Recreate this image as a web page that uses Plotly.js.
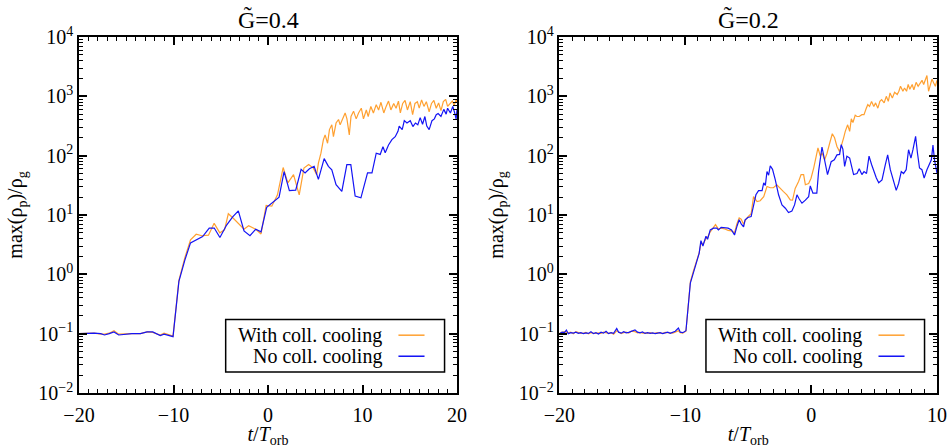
<!DOCTYPE html>
<html>
<head>
<meta charset="utf-8">
<script src="https://cdn.plot.ly/plotly-3.0.1.min.js"></script>
<style>
html,body{margin:0;padding:0;background:#fff;}
#chart{width:949px;height:448px;}
</style>
</head>
<body>
<div id="chart"></div>
<script>
// ---------- Data ----------
const panelTitles = ['G\u0303=0.4', 'G\u0303=0.2'];
const seriesNames = ['With coll. cooling', 'No coll. cooling'];

// Left panel (G=0.4)
const tLeftNo = [-20,-19.3,-18.4,-17.7,-17.3,-16.8,-16.3,-15.8,-15.1,-14.4,-13.5,-12.8,-12.2,-11.4,-11.0,-10.05,
  -9.43,-8.8,-8.2,-7.56,-6.92,-6.22,-5.69,-5.09,-4.38,-3.74,-3.14,-2.54,-1.91,-1.3,-0.74,-0.14,0.5,1.17,1.7,2.26,
  2.93,3.5,3.92,4.38,4.88,5.33,5.94,6.39,6.75,7.2,7.81,8.34,8.76,9.22,9.83,10.53,11.0,11.45,11.87,12.16,
  12.4,12.75,13.11,13.46,13.75,13.88,14.2,14.42,14.7,15.05,15.33,15.6,15.85,16.1,16.35,16.6,16.8,17.05,17.35,17.6,
  17.8,18.0,18.3,18.6,18.85,19.0,19.3,19.55,19.75,19.9,20.0];
const vLeftNo = [0.100,0.102,0.102,0.100,0.095,0.100,0.107,0.095,0.098,0.100,0.100,0.107,0.107,0.093,0.098,0.089,
  0.76,1.74,3.39,3.80,4.32,6.03,6.03,4.17,6.76,9.33,11.7,5.37,4.47,5.75,5.19,13.5,16.6,20.0,53.7,25.7,
  26.3,58.9,51.3,60.3,66.1,39.8,89.1,66.1,57.5,32.4,25.1,70.8,70.8,20.9,19.5,51.3,51.3,110,105,141,
  112,151,186,209,257,316,275,389,355,389,309,355,331,437,339,457,316,275,389,417,
  490,513,457,603,501,631,525,676,525,417,603];

const tLeftWith = [-20,-19.3,-18.4,-17.7,-17.3,-16.8,-16.3,-15.8,-15.1,-14.4,-13.5,-12.8,-12.2,-11.4,-11.0,-10.05,
  -9.43,-8.8,-8.2,-7.6,-7.0,-6.3,-5.7,-5.1,-4.6,-4.2,-3.7,-3.14,-2.54,-2.05,-1.3,-0.74,-0.2,0.4,1.0,1.6,
  2.1,2.7,3.3,3.8,4.3,4.8,5.15,5.33,5.6,5.86,6.04,6.3,6.5,6.75,6.92,7.2,7.46,7.63,7.88,8.16,
  8.35,8.6,8.78,9.05,9.33,9.58,9.87,10.1,10.4,10.6,10.88,11.15,11.45,11.7,11.95,12.25,12.5,12.75,13.0,13.3,
  13.55,13.8,14.0,14.25,14.5,14.75,15.05,15.3,15.55,15.8,16.0,16.25,16.5,16.75,17.05,17.3,17.55,17.8,18.05,18.3,
  18.55,18.8,19.0,19.25,19.5,19.7,19.9,20.0];
const vLeftWith = [0.100,0.102,0.102,0.098,0.098,0.102,0.112,0.098,0.100,0.100,0.100,0.107,0.105,0.095,0.102,0.091,
  0.79,1.91,3.80,4.73,4.47,4.57,7.24,5.01,5.62,10.5,8.91,7.08,5.75,6.61,5.75,4.79,14.5,14.1,21.9,63.1,
  34.7,47.9,21.9,61.7,70.8,61.7,47.9,75.0,110,186,224,162,275,331,209,355,407,331,407,525,
  417,224,457,562,417,525,631,417,589,457,676,525,724,589,794,525,676,832,589,759,
  631,832,525,759,851,589,813,490,759,813,631,871,676,813,550,759,851,631,776,575,
  813,891,676,759,832,708,871,794];

// Right panel (G=0.2)
const tRightNo = [-20.0,-19.8,-19.6,-19.45,-19.3,-19.1,-18.9,-18.7,-18.5,-18.3,-18.1,-17.9,-17.7,-17.5,-17.3,-17.1,
  -16.9,-16.7,-16.5,-16.3,-16.1,-15.9,-15.7,-15.45,-15.3,-15.1,-14.9,-14.7,-14.5,-14.3,-14.0,-13.8,-13.6,-13.4,
  -13.2,-13.0,-12.8,-12.6,-12.4,-12.2,-12.0,-11.8,-11.6,-11.4,-11.2,-11.0,-10.8,-10.55,-10.4,-10.2,-9.95,
  -9.6,-9.35,-9.08,-8.9,-8.76,-8.6,-8.36,-8.23,-8.02,-7.76,-7.5,-7.37,-7.15,-6.86,-6.6,-6.33,-6.09,-5.91,-5.72,
  -5.56,-5.37,-5.25,-5.03,-4.77,-4.58,-4.39,-4.18,-3.9,-3.77,-3.64,-3.51,-3.38,-3.25,-3.07,-2.85,-2.59,-2.32,
  -2.05,-1.8,-1.53,-1.32,-1.13,-0.95,-0.73,-0.46,-0.2,-0.07,0.14,0.45,0.59,0.86,1.12,1.3,1.59,1.84,2.05,2.26,
  2.39,2.52,2.66,2.84,3.06,3.37,3.64,3.82,4.03,4.2,4.4,4.6,4.8,4.98,5.18,5.37,5.63,5.89,6.08,6.29,6.5,6.76,
  6.95,7.16,7.34,7.55,7.74,7.93,8.09,8.3,8.45,8.61,8.8,8.98,9.2,9.41,9.55,9.68,9.8,10.0];
const vRightNo = [0.100,0.106,0.104,0.115,0.100,0.104,0.102,0.106,0.101,0.104,0.100,0.103,0.101,0.108,0.100,0.104,
  0.099,0.106,0.102,0.110,0.100,0.104,0.101,0.122,0.106,0.102,0.108,0.103,0.105,0.108,0.116,0.106,0.103,0.107,
  0.101,0.104,0.101,0.103,0.100,0.102,0.104,0.100,0.103,0.106,0.101,0.105,0.110,0.124,0.106,0.104,0.112,
  0.71,1.10,1.62,2.26,3.70,3.00,4.40,3.90,5.60,6.00,6.00,5.60,6.20,6.00,6.00,5.60,4.60,6.30,8.30,
  7.10,6.30,8.30,9.10,9.40,14.8,21.9,25.7,25.7,34.7,31.6,54.0,46.8,67.6,58.9,39.2,21.9,14.8,
  13.0,11.0,11.7,14.8,21.9,18.6,15.8,17.8,20.4,30.9,23.4,23.4,54.0,140,75.0,47.9,79.0,85.0,103,105,
  153,129,66.0,98.0,91.0,48.0,50.0,60.0,48.0,54.0,50.0,98.0,71.0,54.0,42.0,35.0,39.0,70.0,103,58.0,42.0,26.0,
  34.0,54.0,50.0,58.0,126,91.0,126,211,110,62.0,58.0,42.0,58.0,71.0,85.0,151,85.0,51.0];

const tRightWith = [-20.0,-19.8,-19.6,-19.45,-19.3,-19.1,-18.9,-18.7,-18.5,-18.3,-18.1,-17.9,-17.7,-17.5,-17.3,-17.1,
  -16.9,-16.7,-16.5,-16.3,-16.1,-15.9,-15.7,-15.45,-15.3,-15.1,-14.9,-14.7,-14.5,-14.3,-14.0,-13.8,-13.6,-13.4,
  -13.2,-13.0,-12.8,-12.6,-12.4,-12.2,-12.0,-11.8,-11.6,-11.4,-11.2,-11.0,-10.8,-10.55,-10.4,-10.2,-9.95,
  -9.6,-9.35,-9.08,-8.9,-8.76,-8.6,-8.36,-8.23,-8.02,-7.76,-7.6,-7.37,-7.15,-6.86,-6.6,-6.33,-6.09,-5.91,-5.72,
  -5.56,-5.37,-5.25,-5.03,-4.77,-4.58,-4.3,-4.05,-3.77,-3.51,-3.25,-3.0,-2.73,-2.46,-2.2,-1.93,-1.66,-1.48,
  -1.27,-1.0,-0.8,-0.6,-0.46,-0.2,-0.01,0.2,0.4,0.54,0.73,0.86,1.07,1.26,1.47,1.68,1.86,2.05,2.26,2.44,2.58,
  2.71,2.9,3.06,3.19,3.32,3.5,3.64,3.82,4.03,4.2,4.38,4.5,4.64,4.8,4.98,5.12,5.3,5.46,5.6,5.8,5.97,6.13,
  6.27,6.45,6.63,6.84,6.97,7.1,7.29,7.42,7.58,7.71,7.84,8.03,8.16,8.34,8.5,8.68,8.81,8.94,9.07,9.2,9.33,
  9.47,9.6,9.73,9.87,10.0];
const vRightWith = [0.102,0.104,0.108,0.106,0.103,0.106,0.100,0.108,0.103,0.101,0.102,0.105,0.099,0.104,0.102,0.101,
  0.103,0.101,0.106,0.103,0.101,0.104,0.098,0.112,0.108,0.100,0.104,0.106,0.102,0.110,0.108,0.103,0.105,0.102,
  0.103,0.101,0.104,0.101,0.102,0.104,0.102,0.101,0.105,0.103,0.104,0.102,0.106,0.112,0.104,0.102,0.110,
  0.75,1.15,1.70,2.30,3.30,3.20,4.00,4.20,5.20,6.30,6.90,5.80,6.00,5.80,5.50,5.40,5.00,7.00,8.90,
  8.50,7.00,8.00,9.30,10.5,20.4,16.8,17.4,20.4,30.2,28.8,28.8,32.4,28.8,24.8,21.9,18.0,17.8,
  28.0,36.8,47.9,47.9,32.4,33.9,41.7,61.7,97.7,135,97.7,112,85.0,110,162,234,200,143,117,151,200,
  257,331,257,417,363,479,457,457,490,490,631,724,676,822,676,776,631,822,879,776,1000,822,
  1140,933,1175,1072,1216,1479,1216,1380,1216,1585,1318,1585,1288,1722,1479,1660,1862,1585,1950,2239,1216,
  1585,1950,1698,1479,1862];

// Axis ticks
const xTicksLeft = [-20, -10, 0, 10, 20];
const xTicksRight = [-20, -10, 0, 10];
const yTickVals = [0.01, 0.1, 1, 10, 100, 1000, 10000];
const yTickText = ['10<sup>\u22122</sup>','10<sup>\u22121</sup>','10<sup>0</sup>','10<sup>1</sup>','10<sup>2</sup>','10<sup>3</sup>','10<sup>4</sup>'];

// ---------- Styling ----------
const FONT = '"Liberation Serif", serif';
const ORANGE = 'rgb(255,160,48)';
const BLUE = 'rgb(20,20,245)';

const yMinor = [];
for (let d = -2; d < 4; d++) for (let k = 2; k <= 9; k++) yMinor.push(k * Math.pow(10, d));

function xAxis(domain, range, ticks, anchor) {
  return {
    domain: domain, range: range, anchor: anchor,
    tickmode: 'array', tickvals: ticks,
    ticktext: ticks.map(v => (v < 0 ? '\u2212' + Math.abs(v) : String(v))),
    showline: true, linecolor: '#000', linewidth: 1.5, mirror: 'allticks',
    ticks: 'inside', ticklen: 8, tickwidth: 1.5, tickcolor: '#000',
    minor: { dtick: 1, tick0: 0, ticks: 'inside', ticklen: 4, tickwidth: 1, tickcolor: '#000' },
    showgrid: false, zeroline: false,
    tickfont: { family: FONT, size: 20, color: '#000' },
    ticklabelstandoff: 3,
    title: { text: '<i>t</i>/<i>T</i><sub>orb</sub>', font: { family: FONT, size: 20, color: '#000' }, standoff: 5 }
  };
}
function yAxis(anchor) {
  return {
    anchor: anchor, type: 'log', range: [-2, 4], domain: [0, 1],
    tickmode: 'array', tickvals: yTickVals, ticktext: yTickText,
    showline: true, linecolor: '#000', linewidth: 1.5, mirror: 'allticks',
    ticks: 'inside', ticklen: 8, tickwidth: 1.5, tickcolor: '#000',
    minor: { tickmode: 'array', tickvals: yMinor, ticks: 'inside', ticklen: 4, tickwidth: 1, tickcolor: '#000' },
    showgrid: false, zeroline: false,
    tickfont: { family: FONT, size: 20, color: '#000' },
    title: { text: 'max(\u03c1<sub>p</sub>)/\u03c1<sub>g</sub>', font: { family: FONT, size: 20, color: '#000' }, standoff: 10 }
  };
}

const traces = [
  { x: tLeftWith, y: vLeftWith, xaxis: 'x', yaxis: 'y', mode: 'lines', name: seriesNames[0], line: { color: ORANGE, width: 1.2 } },
  { x: tLeftNo, y: vLeftNo, xaxis: 'x', yaxis: 'y', mode: 'lines', name: seriesNames[1], line: { color: BLUE, width: 1.2 } },
  { x: tRightWith, y: vRightWith, xaxis: 'x2', yaxis: 'y2', mode: 'lines', name: seriesNames[0], line: { color: ORANGE, width: 1.2 } },
  { x: tRightNo, y: vRightNo, xaxis: 'x2', yaxis: 'y2', mode: 'lines', name: seriesNames[1], line: { color: BLUE, width: 1.2 } }
];

// Legend (drawn as box + line samples + right-aligned text, like the reference)
const shapes = [];
const annotations = [];
[['x', 'y'], ['x2', 'y2']].forEach(function (ref, i) {
  const xr = ref[0] + ' domain', yr = ref[1] + ' domain';
  shapes.push({ type: 'rect', xref: xr, yref: yr, x0: 0.388, x1: 0.967, y0: 0.059, y1: 0.2066,
    line: { color: '#000', width: 1.5 }, fillcolor: '#fff', layer: 'above' });
  [[0.1624, ORANGE, seriesNames[0]], [0.1033, BLUE, seriesNames[1]]].forEach(function (row) {
    shapes.push({ type: 'line', xref: xr, yref: yr, x0: 0.845, x1: 0.914, y0: row[0], y1: row[0],
      line: { color: row[1], width: 1.5 }, layer: 'above' });
    annotations.push({ xref: xr, yref: yr, x: 0.8074, y: row[0], xanchor: 'right', yanchor: 'middle',
      text: row[2], showarrow: false, font: { family: FONT, size: 20, color: '#000' } });
  });
  annotations.push({ xref: xr, yref: 'paper', x: 0.5, y: 1.0, yshift: 18, xanchor: 'center', yanchor: 'middle',
    text: panelTitles[i], showarrow: false, font: { family: FONT, size: 24, color: '#000' } });
});

const layout = {
  width: 949, height: 448,
  margin: { l: 79, r: 12, t: 37, b: 55 },
  paper_bgcolor: '#fff', plot_bgcolor: '#fff',
  showlegend: false,
  font: { family: FONT, color: '#000' },
  xaxis: xAxis([0, 0.4406], [-20, 20], xTicksLeft, 'y'),
  yaxis: yAxis('x'),
  xaxis2: xAxis([0.56, 1], [-20, 10], xTicksRight, 'y2'),
  yaxis2: yAxis('x2'),
  shapes: shapes,
  annotations: annotations
};

Plotly.newPlot('chart', traces, layout, { displayModeBar: false });
</script>
</body>
</html>
